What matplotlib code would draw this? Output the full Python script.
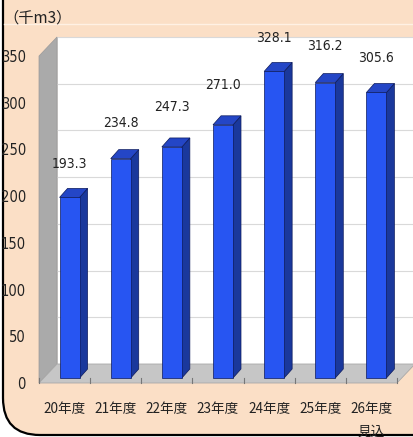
import matplotlib
matplotlib.use("Agg")
import matplotlib.pyplot as plt
from matplotlib import font_manager
from matplotlib.patches import Polygon, FancyBboxPatch
from matplotlib.lines import Line2D

# Annual volume (thousand m3) by fiscal year
categories = ["20年度", "21年度", "22年度", "23年度", "24年度", "25年度", "26年度\n見込"]
values = [193.3, 234.8, 247.3, 271.0, 328.1, 316.2, 305.6]
y_ticks = [0, 50, 100, 150, 200, 250, 300, 350]
unit_label = "（千m3）"

# extra lift (pixels) for individual value labels
label_lift = [0, 3, 7, 7, 0, 4, 1]

W, H, DPI = 413, 437, 100
PEACH = "#fbdfc6"
FRONT = "#2755f2"
SIDE = "#1a389c"
TOP = "#2446c6"
EDGE = "#0c1a5c"
TEXT = "#222222"
JP_FONT = ["Noto Sans CJK JP", "DejaVu Sans"]


def narrow_font(size):
    """A condensed face for the numbers, if one is installed."""
    for fam, stretch in [("Liberation Sans Narrow", "normal"),
                         ("DejaVu Sans", "condensed"),
                         ("Roboto", "normal")]:
        fp = font_manager.FontProperties(family=fam, stretch=stretch, size=size)
        try:
            path = font_manager.findfont(fp, fallback_to_default=False)
        except Exception:
            continue
        name = path.lower()
        if fam == "DejaVu Sans" and "condensed" not in name:
            continue
        if fam.split()[0].lower() in name:
            return fp
    return font_manager.FontProperties(family="DejaVu Sans", size=size)


fig = plt.figure(figsize=(W / DPI, H / DPI), dpi=DPI, facecolor="white")

# rounded frame, only the lower-left corner falls inside the canvas
frame = FancyBboxPatch((3 / DPI, 2 / DPI), 5.0, 6.0,
                       boxstyle="round,pad=0,rounding_size=0.37",
                       transform=fig.dpi_scale_trans, facecolor=PEACH,
                       edgecolor="black", linewidth=1.6, zorder=-10)
fig.patches.append(frame)
fig.lines.append(Line2D([4 / W, 1], [1 - 24 / H, 1 - 24 / H], transform=fig.transFigure,
                        color="#fff1e4", linewidth=1.0, zorder=-9))

# front plane of the chart box, in pixels
left_px, right_px, top_px, bottom_px = 39, 397, 56, 383
ax = fig.add_axes([left_px / W, 1 - bottom_px / H,
                   (right_px - left_px) / W, (bottom_px - top_px) / H])
ax.set_facecolor("none")
n = len(categories)
ax.set_xlim(-0.5, n - 0.5)
ax.set_ylim(y_ticks[0], y_ticks[-1])
for s in ax.spines.values():
    s.set_visible(False)

# pixel -> data conversion for the oblique depth
ux = n / (right_px - left_px)
uy = (y_ticks[-1] - y_ticks[0]) / (bottom_px - top_px)
dx, dy = 18 * ux, 19 * uy          # full depth of the box
bx, by = 5 * ux, 5 * uy            # bar front face offset
bdx, bdy = 8 * ux, 9 * uy          # bar depth
bw = 20 * ux                       # bar width

x0, x1 = -0.5, n - 0.5
y0, y1 = y_ticks[0], y_ticks[-1]

# back wall, left wall, floor
ax.add_patch(Polygon([(x0 + dx, y0 + dy), (x1 + dx, y0 + dy), (x1 + dx, y1 + dy), (x0 + dx, y1 + dy)],
                     closed=True, facecolor="white", edgecolor="#c8c8c8", lw=0.6,
                     clip_on=False, zorder=1))
for t in y_ticks[1:]:
    ax.plot([x0 + dx, x1 + dx], [t + dy, t + dy], color="#d9d9d9", lw=0.8,
            clip_on=False, zorder=1.5)
ax.add_patch(Polygon([(x0, y0), (x0 + dx, y0 + dy), (x0 + dx, y1 + dy), (x0, y1)],
                     closed=True, facecolor="#aaaaaa", edgecolor="#9a9a9a", lw=0.5,
                     clip_on=False, zorder=2))
ax.add_patch(Polygon([(x0, y0), (x1, y0), (x1 + dx, y0 + dy), (x0 + dx, y0 + dy)],
                     closed=True, facecolor="#c6c6c6", edgecolor="#a8a8a8", lw=0.6,
                     clip_on=False, zorder=2))
for i in range(n + 1):
    xb = x0 + i
    ax.plot([xb, xb], [y0, y0 + 5 * uy], color="#777777", lw=0.8, clip_on=False, zorder=2.5)

# 3-D bars
xs = list(range(n))
bars = ax.bar([x + bx for x in xs], values, width=bw, bottom=by, color=FRONT,
              edgecolor=EDGE, linewidth=0.5, zorder=5)
for rect in bars:
    xl = rect.get_x()
    xr = xl + rect.get_width()
    yb = rect.get_y()
    yt = yb + rect.get_height()
    ax.add_patch(Polygon([(xr, yb), (xr + bdx, yb + bdy), (xr + bdx, yt + bdy), (xr, yt)],
                         closed=True, facecolor=SIDE, edgecolor=EDGE, lw=0.5, zorder=4))
    ax.add_patch(Polygon([(xl, yt), (xr, yt), (xr + bdx, yt + bdy), (xl + bdx, yt + bdy)],
                         closed=True, facecolor=TOP, edgecolor=EDGE, lw=0.5, zorder=4))

# value labels
val_fp = narrow_font(10)
for x, v, lift in zip(xs, values, label_lift):
    ax.annotate(f"{v:.1f}", (x + bx, v + by), xytext=(0, 33 + lift), textcoords="offset pixels",
                ha="center", va="center", fontproperties=val_fp, color=TEXT, zorder=6)

# axes labels
tick_fp = narrow_font(10.5)
ax.set_yticks(y_ticks)
ax.set_yticklabels([str(t) for t in y_ticks], fontproperties=tick_fp, color=TEXT)
ax.tick_params(axis="y", length=0, pad=9.5)
ax.set_xticks(xs)
ax.set_xticklabels(categories, family=JP_FONT, fontsize=9.8, color=TEXT, linespacing=1.75)
ax.tick_params(axis="x", length=0, pad=14)
for lab in ax.get_xticklabels():
    lab.set_clip_path(frame)

fig.text(3 / W, 1 - 18 / H, unit_label, family=JP_FONT, fontsize=11, color=TEXT,
         ha="left", va="center")

fig.savefig("out.png", dpi=DPI, facecolor="white")
